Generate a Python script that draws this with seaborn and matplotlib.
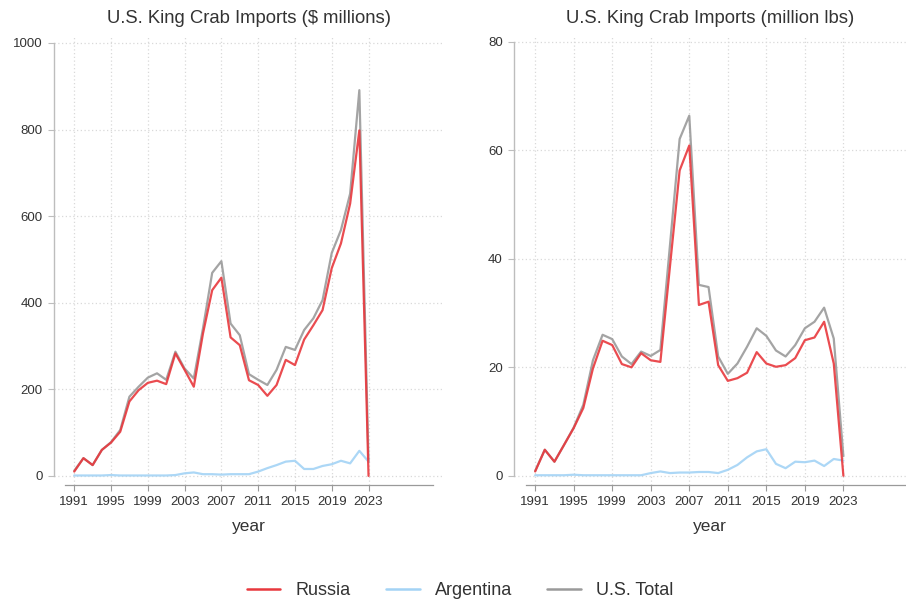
import numpy as np
import pandas as pd
import matplotlib
matplotlib.use("Agg")
import matplotlib.pyplot as plt
from matplotlib.lines import Line2D
import seaborn as sns

years = list(range(1991, 2024))

# $ millions
russia_usd = [10, 41, 25, 60, 77, 102, 172, 198, 215, 220, 212, 283, 245, 206, 329, 429, 458,
              320, 302, 221, 210, 185, 210, 268, 256, 315, 348, 383, 480, 537, 629, 798, 0]
argentina_usd = [1, 1, 1, 1, 2, 1, 1, 1, 1, 1, 1, 2, 6, 8, 4, 4, 3,
                 4, 4, 4, 10, 18, 25, 33, 35, 16, 16, 23, 27, 35, 29, 58, 33]
total_usd = [12, 41, 25, 60, 78, 106, 183, 206, 227, 237, 222, 287, 248, 225, 341, 469, 496,
             352, 325, 235, 222, 210, 245, 298, 291, 337, 364, 406, 515, 568, 652, 891, 33]

# million lbs
russia_lbs = [0.8, 4.8, 2.6, 5.7, 8.8, 12.5, 19.8, 24.9, 24.1, 20.6, 20.0, 22.6, 21.3, 21.0, 38.7, 56.3, 60.9,
              31.5, 32.1, 20.4, 17.5, 18.0, 19.0, 22.8, 20.7, 20.1, 20.4, 21.7, 25.0, 25.5, 28.4, 20.7, 0.0]
argentina_lbs = [0.1, 0.1, 0.1, 0.1, 0.2, 0.1, 0.1, 0.1, 0.1, 0.1, 0.1, 0.1, 0.5, 0.8, 0.5, 0.6, 0.6,
                 0.7, 0.7, 0.5, 1.1, 2.0, 3.4, 4.5, 4.9, 2.2, 1.4, 2.6, 2.5, 2.8, 1.8, 3.1, 2.8]
total_lbs = [0.9, 4.8, 2.6, 5.7, 8.9, 13.1, 21.3, 26.0, 25.2, 22.0, 20.6, 22.9, 22.1, 23.2, 42.6, 62.1, 66.4,
             35.2, 34.8, 22.0, 18.8, 20.7, 23.8, 27.2, 25.8, 23.1, 22.0, 24.1, 27.2, 28.4, 31.0, 25.3, 3.6]

series_names = ["Russia", "Argentina", "U.S. Total"]
palette = {"Russia": "#e8383d", "Argentina": "#a3d3f5", "U.S. Total": "#9a9a9a"}
year_ticks = list(range(1991, 2024, 4))


def long_df(r, a, t):
    return pd.DataFrame({
        "year": years * 3,
        "value": r + a + t,
        "series": ["Russia"] * len(years) + ["Argentina"] * len(years) + ["U.S. Total"] * len(years),
    })


sns.set_style("white")
plt.rcParams["font.family"] = ["Liberation Sans", "DejaVu Sans"]

fig = plt.figure(figsize=(9.06, 5.99), dpi=100)
ax1 = fig.add_axes([0.0596, 0.1903, 0.4294, 0.7488])
ax2 = fig.add_axes([0.5673, 0.1903, 0.4327, 0.7488])

panels = [
    (ax1, long_df(russia_usd, argentina_usd, total_usd), "U.S. King Crab Imports ($ millions)",
     (-21, 1015), [0, 200, 400, 600, 800, 1000], (1988.8, 2031.1), (1990, 2030)),
    (ax2, long_df(russia_lbs, argentina_lbs, total_lbs), "U.S. King Crab Imports (million lbs)",
     (-1.7, 81), [0, 20, 40, 60, 80], (1988.8, 2029.5), (1990, 2029.5)),
]

for ax, df, title, ylim, yticks, xlim, xbounds in panels:
    # total first so russia sits on top like the original
    sns.lineplot(data=df, x="year", y="value", hue="series", hue_order=["U.S. Total", "Argentina", "Russia"],
                 palette=palette, linewidth=1.6, alpha=0.9, legend=False, ax=ax)
    ax.set_xlim(*xlim)
    ax.set_ylim(*ylim)
    ax.set_xticks(year_ticks)
    ax.set_yticks(yticks)
    ax.grid(True, linestyle=(0, (1, 2)), color="#d9d9d9", linewidth=0.9)
    ax.set_axisbelow(True)
    ax.spines["right"].set_visible(False)
    ax.spines["top"].set_visible(False)
    ax.spines["left"].set_bounds(yticks[0], yticks[-1])
    ax.spines["left"].set_color("#bdbdbd")
    ax.spines["left"].set_linewidth(1.0)
    ax.spines["bottom"].set_bounds(*xbounds)
    ax.spines["bottom"].set_color("#9a9a9a")
    ax.spines["bottom"].set_linewidth(0.9)
    ax.tick_params(axis="x", bottom=True, length=4, width=0.8, color="#9a9a9a", labelsize=9.5,
                   labelcolor="#333333", pad=4)
    ax.tick_params(axis="y", left=True, length=4, width=0.8, color="#bdbdbd", labelsize=9.5,
                   labelcolor="#333333", pad=4)
    ax.set_title(title, fontsize=13.3, color="#333333", pad=10)
    ax.set_xlabel("year", fontsize=12.5, color="#333333", labelpad=8)
    ax.set_ylabel("")

handles = [Line2D([0], [0], color=palette[n], lw=1.8) for n in series_names]
fig.legend(handles, series_names, loc="lower center", bbox_to_anchor=(0.508, -0.027), ncol=3,
           frameon=False, fontsize=13, handlelength=1.85, columnspacing=1.95, handletextpad=0.85,
           labelcolor="#333333")

plt.savefig("out.png", dpi=100)
